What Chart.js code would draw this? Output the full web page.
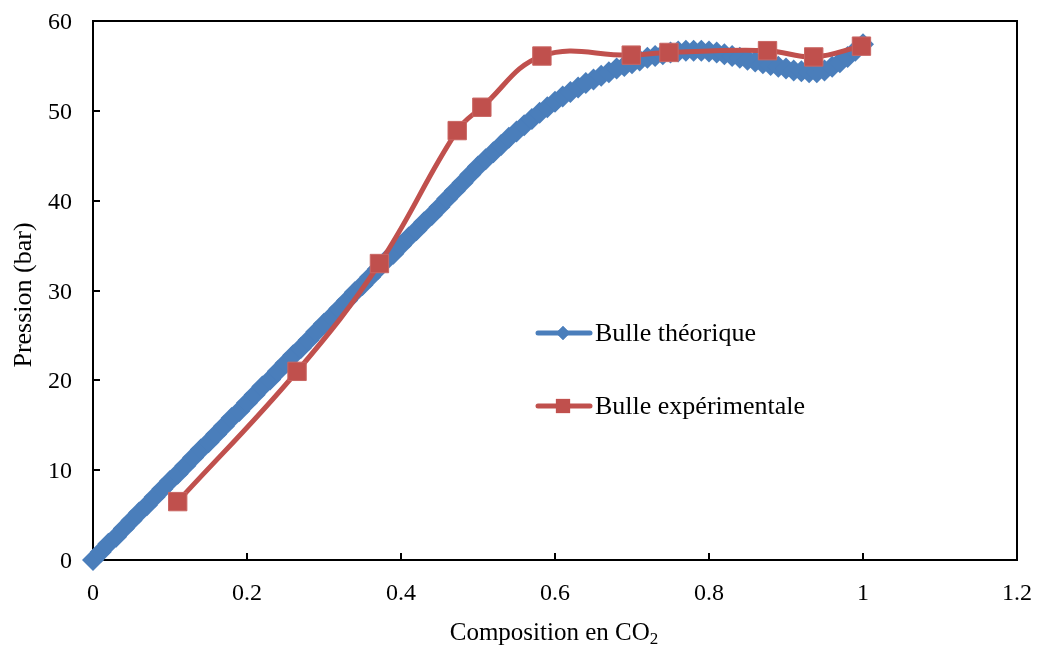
<!DOCTYPE html>
<html>
<head>
<meta charset="utf-8">
<script src="https://cdn.jsdelivr.net/npm/chart.js@4.4.1/dist/chart.umd.min.js"></script>
<style>
  html, body { margin: 0; padding: 0; background: #fff; }
  #wrap { width: 1038px; height: 648px; }
</style>
</head>
<body>
<div id="wrap"><canvas id="chart"></canvas></div>
<script>
// Bulle théorique (calculated curve, one point every 0.01)
const theoX = [
  0.00, 0.01, 0.02, 0.03, 0.04, 0.05, 0.06, 0.07, 0.08, 0.09,
  0.10, 0.11, 0.12, 0.13, 0.14, 0.15, 0.16, 0.17, 0.18, 0.19,
  0.20, 0.21, 0.22, 0.23, 0.24, 0.25, 0.26, 0.27, 0.28, 0.29,
  0.30, 0.31, 0.32, 0.33, 0.34, 0.35, 0.36, 0.37, 0.38, 0.39,
  0.40, 0.41, 0.42, 0.43, 0.44, 0.45, 0.46, 0.47, 0.48, 0.49,
  0.50, 0.51, 0.52, 0.53, 0.54, 0.55, 0.56, 0.57, 0.58, 0.59,
  0.60, 0.61, 0.62, 0.63, 0.64, 0.65, 0.66, 0.67, 0.68, 0.69,
  0.70, 0.71, 0.72, 0.73, 0.74, 0.75, 0.76, 0.77, 0.78, 0.79,
  0.80, 0.81, 0.82, 0.83, 0.84, 0.85, 0.86, 0.87, 0.88, 0.89,
  0.90, 0.91, 0.92, 0.93, 0.94, 0.95, 0.96, 0.97, 0.98, 0.99,
  1.00
];
const theoY = [
  0.0, 0.9, 1.8, 2.6, 3.5, 4.4, 5.3, 6.1, 7.0, 7.9,
  8.8, 9.6, 10.5, 11.4, 12.3, 13.1, 14.0, 14.9, 15.8, 16.6,
  17.5, 18.4, 19.3, 20.1, 21.0, 21.9, 22.8, 23.6, 24.5, 25.4,
  26.3, 27.1, 28.0, 28.9, 29.8, 30.6, 31.5, 32.4, 33.3, 34.1,
  35.0, 35.9, 36.7, 37.6, 38.4, 39.3, 40.2, 41.1, 42.0, 42.9,
  43.8, 44.6, 45.4, 46.2, 47.0, 47.7, 48.4, 49.1, 49.8, 50.4,
  51.0, 51.6, 52.1, 52.6, 53.1, 53.5, 53.9, 54.3, 54.7, 55.0,
  55.3, 55.6, 55.9, 56.1, 56.3, 56.5, 56.6, 56.7, 56.7, 56.7,
  56.6, 56.5, 56.3, 56.1, 55.9, 55.7, 55.5, 55.3, 55.1, 54.9,
  54.7, 54.5, 54.4, 54.3, 54.3, 54.5, 54.9, 55.4, 56.0, 56.7,
  57.4
];

// Bulle expérimentale (measured points)
const expX = [0.110, 0.265, 0.372, 0.473, 0.505, 0.583, 0.699, 0.748, 0.876, 0.936, 0.998];
const expY = [6.5, 21.0, 33.0, 47.8, 50.4, 56.1, 56.2, 56.5, 56.7, 56.0, 57.2];

const xTicks = [0, 0.2, 0.4, 0.6, 0.8, 1, 1.2];
const yTicks = [0, 10, 20, 30, 40, 50, 60];
const xTickLabels = ['0', '0.2', '0.4', '0.6', '0.8', '1', '1.2'];
const yTickLabels = ['0', '10', '20', '30', '40', '50', '60'];

const seriesNames = ['Bulle théorique', 'Bulle expérimentale'];
const BLUE = '#4A7EBB';
const RED = '#C0504D';
const FONT = "'Liberation Serif', 'Times New Roman', serif";

function text(ctx, str, x, y, size, align) {
  ctx.font = size + 'px ' + FONT;
  ctx.textAlign = align;
  ctx.textBaseline = 'alphabetic';
  ctx.fillText(str, x, y);
}

// frame, inward ticks, labels, axis titles and Excel-style legend
const decorations = {
  id: 'decorations',
  beforeDatasetsDraw(chart) {
    const { ctx, chartArea: a, scales } = chart;
    ctx.save();
    ctx.strokeStyle = '#000';
    ctx.lineWidth = 2;
    ctx.strokeRect(a.left, a.top, a.right - a.left, a.bottom - a.top);
    ctx.beginPath();
    xTicks.forEach(v => {
      const px = Math.round(scales.x.getPixelForValue(v));
      ctx.moveTo(px, a.bottom);
      ctx.lineTo(px, a.bottom - 7);
    });
    yTicks.forEach(v => {
      const py = Math.round(scales.y.getPixelForValue(v));
      ctx.moveTo(a.left, py);
      ctx.lineTo(a.left + 7, py);
    });
    ctx.stroke();
    ctx.restore();
  },
  afterDraw(chart) {
    const { ctx, chartArea: a, scales } = chart;
    ctx.save();
    ctx.fillStyle = '#000';

    // tick labels
    xTicks.forEach((v, i) => {
      text(ctx, xTickLabels[i], scales.x.getPixelForValue(v), a.bottom + 40, 24, 'center');
    });
    yTicks.forEach((v, i) => {
      text(ctx, yTickLabels[i], a.left - 21, scales.y.getPixelForValue(v) + 8, 24, 'right');
    });

    // x title with subscript
    ctx.font = '25px ' + FONT;
    const wMain = ctx.measureText('Composition en CO').width;
    ctx.font = '17px ' + FONT;
    const wSub = ctx.measureText('2').width;
    const x0 = 554 - (wMain + wSub) / 2;
    text(ctx, 'Composition en CO', x0, 640, 25, 'left');
    text(ctx, '2', x0 + wMain, 644, 17, 'left');

    // y title
    ctx.save();
    ctx.translate(24, 295);
    ctx.rotate(-Math.PI / 2);
    ctx.font = '26px ' + FONT;
    ctx.textAlign = 'center';
    ctx.textBaseline = 'middle';
    ctx.fillText('Pression (bar)', 0, 0);
    ctx.restore();

    // legend
    const items = [
      { y: 333, base: 341, color: BLUE, style: 'rectRot', r: 7 },
      { y: 406, base: 414, color: RED, style: 'rect', r: 10 }
    ];
    items.forEach((it, i) => {
      ctx.strokeStyle = it.color;
      ctx.lineWidth = 5;
      ctx.lineCap = 'round';
      ctx.beginPath();
      ctx.moveTo(538, it.y);
      ctx.lineTo(590, it.y);
      ctx.stroke();
      ctx.fillStyle = it.color;
      Chart.helpers.drawPoint(ctx, { pointStyle: it.style, radius: it.r, rotation: 0, borderWidth: 0 }, 563, it.y);
      ctx.fill();
      ctx.fillStyle = '#000';
      text(ctx, seriesNames[i], 595, it.base, 26, 'left');
    });
    ctx.restore();
  }
};

new Chart(document.getElementById('chart'), {
  type: 'line',
  data: {
    datasets: [
      {
        label: seriesNames[1],
        data: expX.map((x, i) => ({ x: x, y: expY[i] })),
        borderColor: RED,
        backgroundColor: RED,
        borderWidth: 5,
        tension: 0.4,
        pointStyle: 'rect',
        pointRadius: 13,
        pointBorderWidth: 1,
        pointBorderColor: '#C96663',
        pointBackgroundColor: RED,
        clip: false,
        order: 0
      },
      {
        label: seriesNames[0],
        data: theoX.map((x, i) => ({ x: x, y: theoY[i] })),
        borderColor: BLUE,
        backgroundColor: BLUE,
        borderWidth: 6,
        tension: 0,
        pointStyle: 'rectRot',
        pointRadius: 11,
        pointBorderWidth: 0,
        pointBackgroundColor: BLUE,
        clip: false,
        order: 1
      }
    ]
  },
  options: {
    responsive: true,
    maintainAspectRatio: false,
    animation: false,
    layout: { padding: { top: 21, right: 21, left: 0, bottom: 0 } },
    plugins: {
      legend: { display: false },
      tooltip: { enabled: false }
    },
    scales: {
      x: {
        type: 'linear',
        min: 0,
        max: 1.2,
        afterBuildTicks: s => { s.ticks = xTicks.map(v => ({ value: v })); },
        afterFit: s => { s.height = 88; },
        grid: { display: false, drawTicks: false },
        border: { display: false },
        ticks: { display: false }
      },
      y: {
        min: 0,
        max: 60,
        afterBuildTicks: s => { s.ticks = yTicks.map(v => ({ value: v })); },
        afterFit: s => { s.width = 93; },
        grid: { display: false, drawTicks: false },
        border: { display: false },
        ticks: { display: false }
      }
    }
  },
  plugins: [decorations]
});
</script>
</body>
</html>
